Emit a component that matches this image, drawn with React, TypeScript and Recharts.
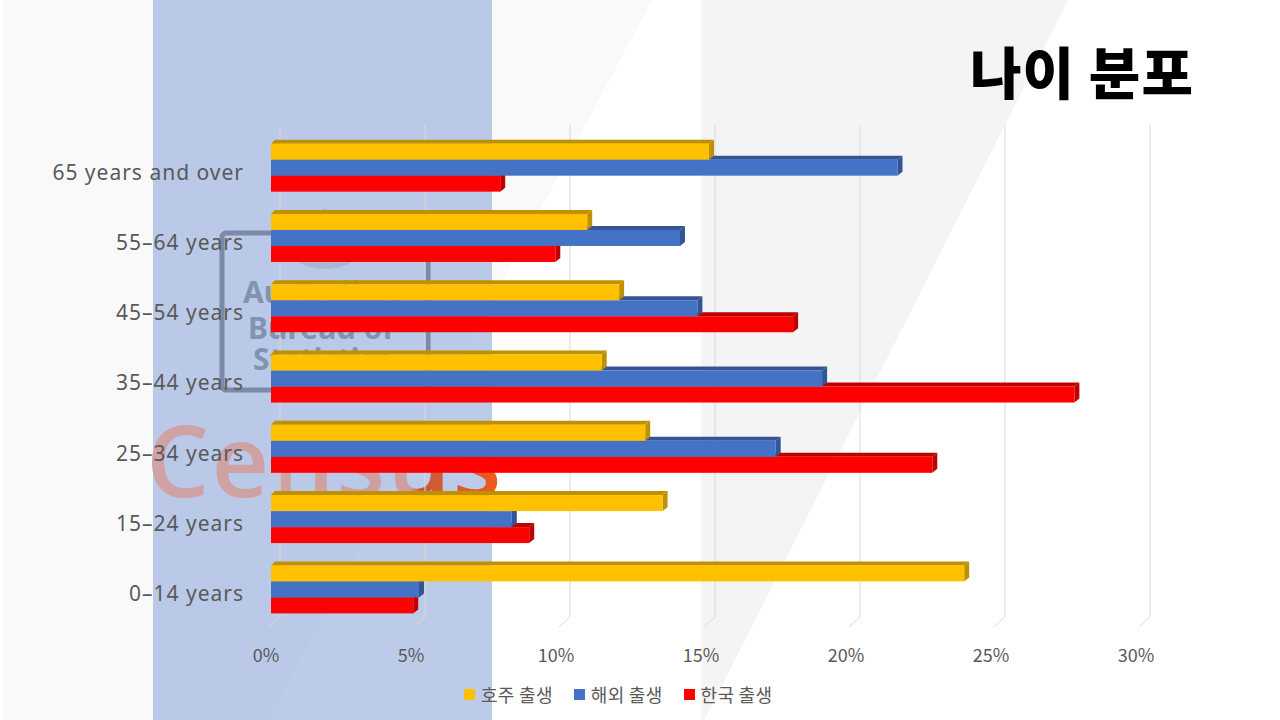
import { BarChart, Bar, XAxis, YAxis, CartesianGrid, Legend } from 'recharts'

const FONT = '"Noto Sans CJK KR", "Noto Sans", sans-serif'
const LATIN_FONT = '"Noto Sans", "Noto Sans CJK KR", sans-serif'

const AGE_GROUPS = ['65 years and over', '55–64 years', '45–54 years', '35–44 years', '25–34 years', '15–24 years', '0–14 years']
const AUSTRALIA_BORN = [15.0, 10.8, 11.9, 11.3, 12.8, 13.4, 23.8]
const OVERSEAS_BORN = [21.5, 14.0, 14.6, 18.9, 17.3, 8.2, 5.0]
const KOREA_BORN = [7.8, 9.7, 17.9, 27.6, 22.7, 8.8, 4.8]
const X_TICKS = [0, 5, 10, 15, 20, 25, 30]

const data = AGE_GROUPS.map((age, i) => ({
  age,
  australia: AUSTRALIA_BORN[i],
  overseas: OVERSEAS_BORN[i],
  korea: KOREA_BORN[i],
}))

// bevelled bar, the way a 3D office chart looks
function Bar3D(props: any) {
  const { x, y, width, height, fill, shade } = props
  const left = x - 9
  const right = x + width - 6
  const top = y + 7
  const bottom = top + height
  return (
    <g>
      <polygon points={`${left},${top} ${left + 4},${top - 4} ${right + 5},${top - 4} ${right},${top}`} fill={shade} />
      <polygon points={`${right},${top} ${right + 5},${top - 4} ${right + 5},${bottom - 4} ${right},${bottom}`} fill={shade} />
      <rect x={left} y={top} width={right - left} height={height} fill={fill} />
    </g>
  )
}

// wall line with the little floor stroke at its foot
function GridLine(props: any) {
  const { x1, y1, y2 } = props
  return (
    <g stroke="#d9d9d9" strokeWidth={1} fill="none">
      <line x1={x1} y1={y1} x2={x1} y2={y2} />
      <line x1={x1} y1={y2} x2={x1 - 11} y2={y2 + 10} />
    </g>
  )
}

function LegendRow({ payload }: any) {
  return (
    <div style={{ display: 'flex', justifyContent: 'flex-start', paddingLeft: 464, fontFamily: FONT, fontSize: 18, letterSpacing: 0.3, color: '#595959' }}>
      {payload.map((item: any) => (
        <div key={item.value} style={{ display: 'flex', alignItems: 'center', marginRight: 21 }}>
          <span style={{ width: 11, height: 11, background: item.color, marginRight: 6 }} />
          <span style={{ whiteSpace: 'nowrap' }}>{item.value}</span>
        </div>
      ))}
    </div>
  )
}

function Backdrop() {
  return (
    <svg width={1280} height={720} style={{ position: 'absolute', left: 0, top: 0 }}>
      <defs>
        <linearGradient id="censusFill" x1="148" x2="502" y1="0" y2="0" gradientUnits="userSpaceOnUse">
          <stop offset="0" stopColor="#cfa3a6" />
          <stop offset="0.74" stopColor="#cf9f9f" />
          <stop offset="0.77" stopColor="#c75c3c" />
          <stop offset="1" stopColor="#f2591c" />
        </linearGradient>
      </defs>
      <rect width={1280} height={720} fill="#ffffff" />
      <rect x={3} width={150} height={720} fill="#f9f9f9" />
      <polygon points="492,0 652,0 492,300" fill="#f9f9f9" />
      <rect x={153} width={339} height={720} fill="#b9c9e7" />
      <polygon points="492,300 492,720 268,720" fill="#bccbe8" />
      <polygon points="701,0 1068,0 701,727" fill="#f4f4f4" />
      <rect x={222} y={233} width={206} height={157} rx={4} fill="none" stroke="#7b8aa8" strokeWidth={5} />
      <ellipse cx={325} cy={245} rx={38} ry={24} fill="#aab7d2" />
      <polygon points="318,214 325,208 332,214" fill="#aab7d2" />
      <g fontFamily={LATIN_FONT} fontWeight={700} fontSize={30} fill="#8293b1">
        <text x={243} y={303}>Australian</text>
        <text x={248} y={339}>Bureau of</text>
        <text x={253} y={370}>Statistics</text>
      </g>
      <text x={146} y={497} fontFamily='"Open Sans", sans-serif' fontWeight={600} fontSize={100} letterSpacing={2} fill="url(#censusFill)">Census</text>
      <text x={970} y={94} fontFamily={FONT} fontWeight={900} fontSize={56} letterSpacing={1} fill="#000000">나이 분포</text>
    </svg>
  )
}

export default function App() {
  return (
    <div style={{ position: 'absolute', left: 0, top: 0, width: 1280, height: 720, overflow: 'hidden' }}>
      <Backdrop />
      <div style={{ position: 'absolute', left: 0, top: 0 }}>
        <BarChart
          layout="vertical"
          width={1280}
          height={720}
          data={data}
          margin={{ top: 125, right: 130, bottom: 0, left: 0 }}
          barCategoryGap="16.6%"
          barGap={0}
        >
          <CartesianGrid horizontal={false} vertical={(p: any) => <GridLine key={p.key ?? p.x1} {...p} />} />
          <XAxis
            type="number"
            domain={[0, 30]}
            ticks={X_TICKS}
            tickFormatter={(v: number) => `${v}%`}
            axisLine={false}
            tickLine={false}
            height={60}
            tickMargin={26}
            tick={{ fontFamily: FONT, fontSize: 18, fill: '#595959', dx: -14 }}
          />
          <YAxis
            type="category"
            dataKey="age"
            width={280}
            interval={0}
            axisLine={false}
            tickLine={false}
            tickMargin={30}
            tick={{ fontFamily: LATIN_FONT, fontSize: 21, letterSpacing: 1, fill: '#595959', dy: 12 }}
          />
          <Legend height={43} itemSorter={null} content={LegendRow} wrapperStyle={{ top: 681, bottom: 'auto', left: 0, width: 1280 }} />
          <Bar dataKey="australia" name="호주 출생" fill="#FFC000" zIndex={3} isAnimationActive={false} shape={(p: any) => <Bar3D {...p} shade="#BF9000" />} />
          <Bar dataKey="overseas" name="해외 출생" fill="#4472C4" zIndex={2} isAnimationActive={false} shape={(p: any) => <Bar3D {...p} shade="#335593" />} />
          <Bar dataKey="korea" name="한국 출생" fill="#FF0000" zIndex={1} isAnimationActive={false} shape={(p: any) => <Bar3D {...p} shade="#BF0000" />} />
        </BarChart>
      </div>
    </div>
  )
}
